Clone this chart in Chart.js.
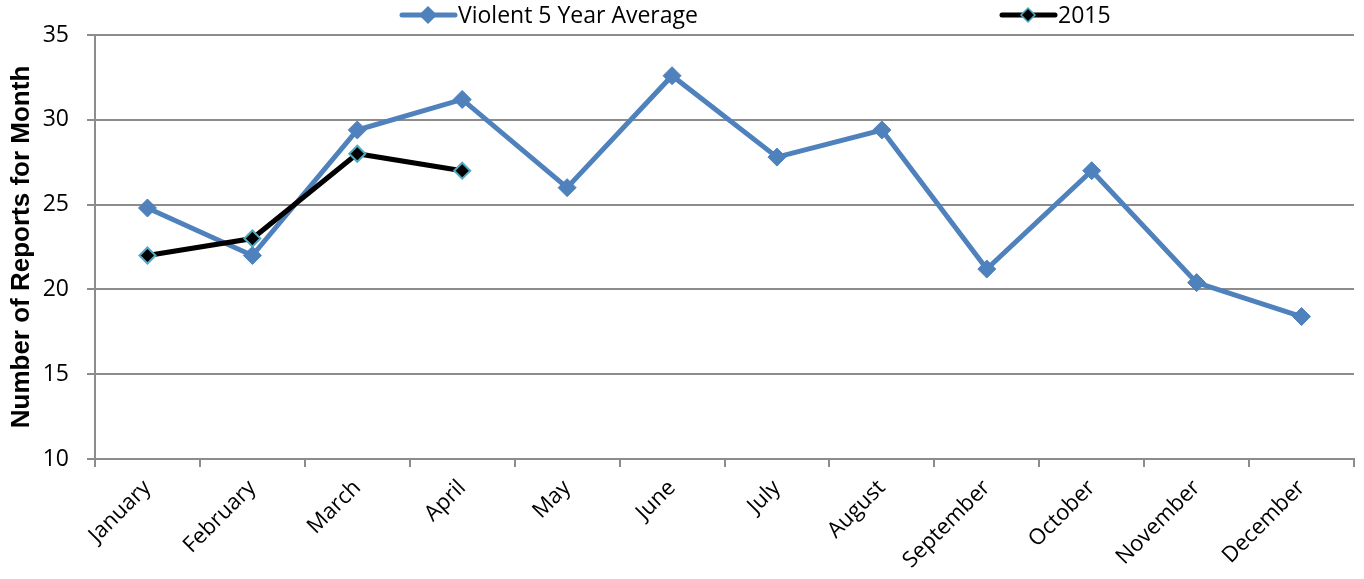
<!DOCTYPE html>
<html>
<head>
<meta charset="utf-8">
<script src="https://cdn.jsdelivr.net/npm/chart.js@4/dist/chart.umd.min.js"></script>
<style>
  html, body { margin: 0; padding: 0; background: #ffffff; }
  #wrap { width: 1364px; height: 579px; position: relative; }
</style>
</head>
<body>
<div id="wrap"><canvas id="chart" width="1364" height="579"></canvas></div>
<script>
// Monthly categories
const months = ['January', 'February', 'March', 'April', 'May', 'June',
  'July', 'August', 'September', 'October', 'November', 'December'];

// Violent reports: five-year monthly average
const avgValues = [24.8, 22.0, 29.4, 31.2, 26.0, 32.6, 27.8, 29.4, 21.2, 27.0, 20.4, 18.4];

// Violent reports for 2015 (year to date)
const values2015 = [22, 23, 28, 27, null, null, null, null, null, null, null, null];

// Value axis ticks
const yTicks = [10, 15, 20, 25, 30, 35];

const seriesNames = ['Violent 5 Year Average', '2015'];

const BLUE = '#4F81BD';
const CYAN = '#4BACC6';
const GRID = '#8c8c8c';
const FONT = '"Open Sans", "Liberation Sans", sans-serif';

// Legend drawn across the top: line sample with a diamond marker, then the name
const topLegend = {
  id: 'topLegend',
  afterDraw(chart) {
    const ctx = chart.ctx;
    const items = [
      { x: 400, text: seriesNames[0], line: BLUE, fill: BLUE, stroke: BLUE, r: 8 },
      { x: 1000, text: seriesNames[1], line: '#000000', fill: '#000000', stroke: CYAN, r: 7 }
    ];
    const y = 15;
    ctx.save();
    items.forEach(it => {
      ctx.strokeStyle = it.line;
      ctx.lineWidth = 5;
      ctx.lineCap = 'round';
      ctx.beginPath();
      ctx.moveTo(it.x + 2, y);
      ctx.lineTo(it.x + 55, y);
      ctx.stroke();
      const cx = it.x + 28;
      ctx.beginPath();
      ctx.moveTo(cx, y - it.r);
      ctx.lineTo(cx + it.r, y);
      ctx.lineTo(cx, y + it.r);
      ctx.lineTo(cx - it.r, y);
      ctx.closePath();
      ctx.fillStyle = it.fill;
      ctx.fill();
      ctx.lineWidth = 1.5;
      ctx.strokeStyle = it.stroke;
      ctx.stroke();
      ctx.fillStyle = '#000000';
      ctx.font = '23px ' + FONT;
      ctx.textBaseline = 'middle';
      ctx.textAlign = 'left';
      ctx.fillText(it.text, it.x + 58, y + 1);
    });
    ctx.restore();
  }
};

new Chart(document.getElementById('chart'), {
  type: 'line',
  data: {
    labels: months,
    datasets: [
      {
        label: seriesNames[0],
        data: avgValues,
        borderColor: BLUE,
        backgroundColor: BLUE,
        borderWidth: 5,
        pointStyle: 'rectRot',
        pointRadius: 9,
        pointBackgroundColor: BLUE,
        pointBorderColor: BLUE,
        pointBorderWidth: 1,
        tension: 0,
        order: 2
      },
      {
        label: seriesNames[1],
        data: values2015,
        borderColor: '#000000',
        backgroundColor: '#000000',
        borderWidth: 5,
        pointStyle: 'rectRot',
        pointRadius: 8,
        pointBackgroundColor: '#000000',
        pointBorderColor: CYAN,
        pointBorderWidth: 2,
        tension: 0,
        spanGaps: false,
        order: 1
      }
    ]
  },
  options: {
    responsive: false,
    animation: false,
    devicePixelRatio: 1,
    layout: { padding: { top: 35, right: 3, left: 0, bottom: 0 } },
    plugins: {
      legend: { display: false },
      tooltip: { enabled: false }
    },
    scales: {
      x: {
        type: 'category',
        offset: true,
        grid: {
          offset: true,
          drawOnChartArea: false,
          drawTicks: true,
          tickLength: 8,
          color: GRID,
          lineWidth: 2
        },
        border: { display: true, color: GRID, width: 2 },
        ticks: {
          autoSkip: false,
          minRotation: 45,
          maxRotation: 45,
          padding: 8,
          color: '#000000',
          font: { family: FONT, size: 22 }
        },
        afterFit(scale) { scale.height = 120; }
      },
      y: {
        min: 10,
        max: 35,
        afterBuildTicks(scale) { scale.ticks = yTicks.map(v => ({ value: v })); },
        grid: {
          color: GRID,
          lineWidth: 2,
          tickLength: 8,
          drawTicks: true
        },
        border: { display: true, color: GRID, width: 2 },
        ticks: {
          padding: 18,
          color: '#000000',
          font: { family: FONT, size: 23 }
        },
        title: {
          display: true,
          text: 'Number of Reports for Month',
          color: '#000000',
          font: { family: '"Liberation Sans", Arial, sans-serif', size: 26, weight: 'bold' },
          padding: { top: 6, bottom: 0 }
        },
        afterFit(scale) { scale.width = 95; }
      }
    }
  },
  plugins: [topLegend]
});
</script>
</body>
</html>
